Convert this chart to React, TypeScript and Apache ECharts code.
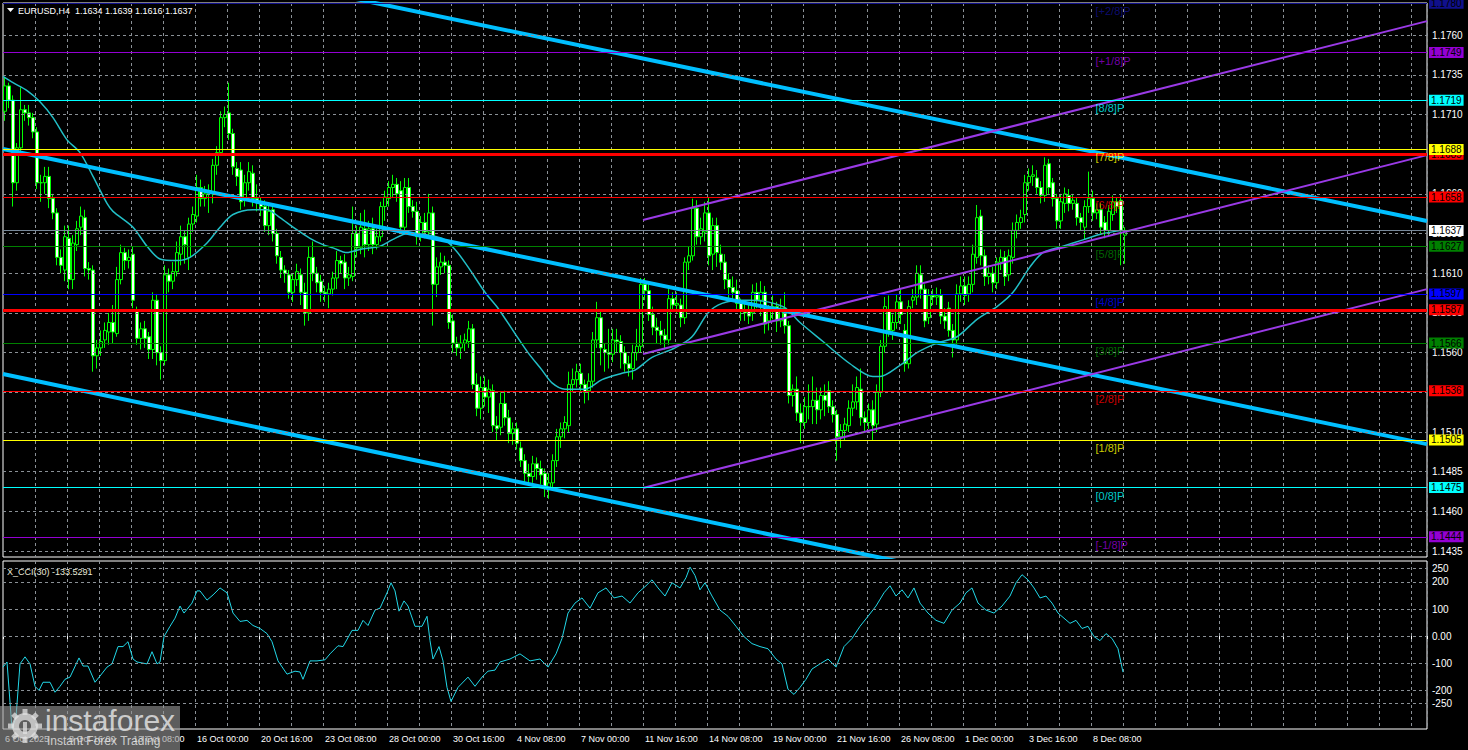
import React, { useEffect, useRef } from "react";
import * as echarts from "echarts";

// ---------- DATA ----------
// candles: [open, close, low, high], one per H4 bar from 6 Oct 2025 00:00
const week1 = [
  [1.1712,1.1728,1.1706,1.1733],[1.1728,1.1719,1.1714,1.1730],[1.1719,1.1667,1.1652,1.1722],[1.1667,1.1689,1.1662,1.1692],[1.1689,1.1713,1.1685,1.1727],
  [1.1713,1.1711,1.1706,1.1716],[1.1711,1.1708,1.1703,1.1716],[1.1708,1.1699,1.1695,1.1711],[1.1699,1.1667,1.1663,1.1702],[1.1667,1.1667,1.1655,1.1672],
  [1.1667,1.1671,1.1660,1.1677],[1.1671,1.1657,1.1651,1.1677],[1.1657,1.1648,1.1644,1.1660],[1.1648,1.1620,1.1615,1.1651],[1.1620,1.1615,1.1610,1.1625],
  [1.1612,1.1633,1.1605,1.1640],[1.1632,1.1606,1.1600,1.1640],[1.1606,1.1629,1.1600,1.1634],[1.1628,1.1638,1.1624,1.1643],[1.1639,1.1646,1.1634,1.1652],
  [1.1645,1.1613,1.1608,1.1650],[1.1613,1.1612,1.1606,1.1617],[1.1612,1.1558,1.1548,1.1615],[1.1558,1.1563,1.1550,1.1568],[1.1563,1.1567,1.1558,1.1574],
  [1.1568,1.1574,1.1563,1.1579],[1.1573,1.1579,1.1565,1.1585],[1.1579,1.1573,1.1566,1.1590],[1.1572,1.1606,1.1570,1.1614],[1.1606,1.1623,1.1603,1.1628],
];
const week2 = [
  [1.1623,1.1618,1.1612,1.1626],[1.1618,1.1620,1.1613,1.1625],[1.1622,1.1593,1.1588,1.1627],[1.1586,1.1569,1.1565,1.1589],[1.1569,1.1575,1.1562,1.1579],
  [1.1575,1.1569,1.1563,1.1580],[1.1570,1.1562,1.1556,1.1573],[1.1562,1.1593,1.1556,1.1598],[1.1593,1.1560,1.1552,1.1597],[1.1560,1.1555,1.1543,1.1564],
  [1.1555,1.1609,1.1552,1.1615],[1.1609,1.1605,1.1598,1.1613],[1.1605,1.1611,1.1600,1.1617],[1.1611,1.1623,1.1608,1.1630],[1.1622,1.1633,1.1615,1.1640],
  [1.1633,1.1628,1.1616,1.1637],[1.1620,1.1641,1.1612,1.1645],[1.1641,1.1647,1.1636,1.1652],[1.1646,1.1664,1.1642,1.1672],[1.1664,1.1657,1.1652,1.1669],
  [1.1657,1.1660,1.1652,1.1665],[1.1660,1.1662,1.1648,1.1666],[1.1661,1.1678,1.1654,1.1682],[1.1678,1.1686,1.1672,1.1690],[1.1686,1.1708,1.1684,1.1712],
  [1.1708,1.1710,1.1702,1.1715],[1.1711,1.1698,1.1694,1.1730],[1.1698,1.1677,1.1672,1.1701],[1.1676,1.1671,1.1665,1.1680],[1.1675,1.1655,1.1650,1.1680],
];
const week3 = [
  [1.1656,1.1667,1.1652,1.1672],[1.1667,1.1674,1.1662,1.1680],[1.1673,1.1657,1.1652,1.1678],[1.1657,1.1655,1.1649,1.1666],[1.1655,1.1652,1.1646,1.1658],
  [1.1652,1.1640,1.1636,1.1656],[1.1640,1.1649,1.1634,1.1654],[1.1650,1.1635,1.1630,1.1654],[1.1635,1.1621,1.1616,1.1638],[1.1620,1.1612,1.1607,1.1624],
  [1.1612,1.1610,1.1604,1.1615],[1.1609,1.1598,1.1594,1.1612],[1.1598,1.1606,1.1592,1.1610],[1.1606,1.1611,1.1602,1.1616],[1.1609,1.1598,1.1590,1.1613],
  [1.1598,1.1585,1.1577,1.1604],[1.1585,1.1620,1.1580,1.1627],[1.1620,1.1610,1.1605,1.1630],[1.1610,1.1604,1.1598,1.1614],[1.1605,1.1598,1.1592,1.1609],
  [1.1598,1.1597,1.1592,1.1602],[1.1597,1.1600,1.1588,1.1604],[1.1600,1.1607,1.1596,1.1611],[1.1607,1.1618,1.1600,1.1624],[1.1618,1.1616,1.1610,1.1621],
  [1.1617,1.1607,1.1600,1.1622],[1.1607,1.1609,1.1602,1.1614],[1.1608,1.1635,1.1605,1.1652],[1.1635,1.1626,1.1620,1.1640],[1.1626,1.1639,1.1622,1.1648],
];
const week4 = [
  [1.1638,1.1628,1.1620,1.1650],[1.1628,1.1638,1.1624,1.1643],[1.1638,1.1628,1.1622,1.1645],[1.1628,1.1633,1.1625,1.1638],[1.1633,1.1652,1.1630,1.1655],
  [1.1652,1.1658,1.1643,1.1662],[1.1657,1.1664,1.1652,1.1668],[1.1664,1.1666,1.1658,1.1672],[1.1666,1.1660,1.1655,1.1670],[1.1662,1.1639,1.1635,1.1668],
  [1.1639,1.1664,1.1636,1.1670],[1.1664,1.1652,1.1648,1.1670],[1.1652,1.1649,1.1645,1.1656],[1.1649,1.1633,1.1628,1.1655],[1.1634,1.1642,1.1630,1.1646],
  [1.1642,1.1636,1.1632,1.1648],[1.1636,1.1648,1.1632,1.1660],[1.1648,1.1603,1.1577,1.1652],[1.1603,1.1614,1.1595,1.1620],[1.1614,1.1617,1.1609,1.1623],
  [1.1617,1.1615,1.1610,1.1621],[1.1615,1.1579,1.1575,1.1618],[1.1580,1.1566,1.1560,1.1584],[1.1566,1.1563,1.1558,1.1570],[1.1563,1.1566,1.1556,1.1571],
  [1.1566,1.1568,1.1561,1.1572],[1.1567,1.1575,1.1563,1.1580],[1.1575,1.1540,1.1537,1.1578],[1.1540,1.1525,1.1520,1.1547],[1.1525,1.1538,1.1518,1.1545],
];
const week5 = [
  [1.1538,1.1532,1.1526,1.1545],[1.1532,1.1537,1.1522,1.1543],[1.1536,1.1514,1.1510,1.1540],[1.1514,1.1512,1.1505,1.1520],[1.1513,1.1528,1.1508,1.1535],
  [1.1528,1.1519,1.1514,1.1536],[1.1519,1.1509,1.1503,1.1524],[1.1509,1.1512,1.1502,1.1516],[1.1512,1.1503,1.1499,1.1516],[1.1500,1.1492,1.1488,1.1504],
  [1.1492,1.1484,1.1478,1.1496],[1.1484,1.1482,1.1476,1.1490],[1.1482,1.1490,1.1478,1.1495],[1.1490,1.1487,1.1480,1.1494],[1.1487,1.1483,1.1477,1.1492],
  [1.1484,1.1475,1.1469,1.1487],[1.1475,1.1478,1.1468,1.1484],[1.1478,1.1492,1.1474,1.1496],[1.1492,1.1507,1.1488,1.1512],[1.1507,1.1512,1.1500,1.1516],
  [1.1512,1.1516,1.1506,1.1520],[1.1514,1.1540,1.1510,1.1548],[1.1540,1.1543,1.1535,1.1550],[1.1543,1.1548,1.1538,1.1553],[1.1547,1.1540,1.1535,1.1553],
  [1.1540,1.1535,1.1528,1.1543],[1.1536,1.1542,1.1530,1.1547],[1.1542,1.1568,1.1538,1.1573],[1.1568,1.1582,1.1563,1.1592],[1.1582,1.1563,1.1552,1.1586],
];
const week6 = [
  [1.1562,1.1560,1.1548,1.1566],[1.1560,1.1559,1.1550,1.1575],[1.1559,1.1568,1.1554,1.1575],[1.1568,1.1567,1.1560,1.1575],[1.1567,1.1560,1.1550,1.1571],
  [1.1560,1.1553,1.1548,1.1564],[1.1553,1.1550,1.1545,1.1558],[1.1550,1.1560,1.1543,1.1565],[1.1560,1.1564,1.1555,1.1575],[1.1564,1.1603,1.1560,1.1607],
  [1.1603,1.1599,1.1593,1.1607],[1.1599,1.1584,1.1580,1.1605],[1.1584,1.1576,1.1571,1.1589],[1.1576,1.1574,1.1566,1.1582],[1.1574,1.1571,1.1565,1.1580],
  [1.1571,1.1568,1.1562,1.1575],[1.1568,1.1594,1.1565,1.1600],[1.1594,1.1590,1.1586,1.1598],[1.1590,1.1591,1.1585,1.1598],[1.1590,1.1582,1.1576,1.1594],
  [1.1582,1.1617,1.1578,1.1620],[1.1617,1.1621,1.1612,1.1627],[1.1621,1.1651,1.1618,1.1657],[1.1651,1.1633,1.1628,1.1656],[1.1633,1.1638,1.1628,1.1645],
  [1.1636,1.1648,1.1630,1.1655],[1.1648,1.1621,1.1615,1.1658],[1.1622,1.1640,1.1612,1.1645],[1.1640,1.1623,1.1614,1.1645],[1.1622,1.1617,1.1612,1.1628],
];
const week7 = [
  [1.1617,1.1606,1.1600,1.1622],[1.1606,1.1601,1.1594,1.1610],[1.1601,1.1598,1.1593,1.1608],[1.1599,1.1591,1.1587,1.1606],[1.1591,1.1587,1.1580,1.1594],
  [1.1587,1.1585,1.1580,1.1592],[1.1586,1.1583,1.1578,1.1590],[1.1585,1.1598,1.1580,1.1603],[1.1598,1.1593,1.1588,1.1604],[1.1593,1.1598,1.1583,1.1605],
  [1.1598,1.1578,1.1572,1.1602],[1.1580,1.1586,1.1574,1.1590],[1.1586,1.1589,1.1581,1.1596],[1.1589,1.1580,1.1573,1.1592],[1.1580,1.1588,1.1576,1.1594],
  [1.1588,1.1577,1.1572,1.1598],[1.1577,1.1533,1.1528,1.1580],[1.1533,1.1537,1.1526,1.1540],[1.1537,1.1522,1.1517,1.1545],[1.1522,1.1516,1.1503,1.1528],
  [1.1516,1.1526,1.1512,1.1532],[1.1526,1.1526,1.1518,1.1540],[1.1526,1.1530,1.1515,1.1545],[1.1530,1.1524,1.1515,1.1538],[1.1524,1.1533,1.1518,1.1538],
  [1.1533,1.1530,1.1520,1.1540],[1.1536,1.1526,1.1522,1.1542],[1.1526,1.1521,1.1516,1.1530],[1.1521,1.1507,1.1492,1.1524],[1.1507,1.1511,1.1500,1.1515],
];
const week8 = [
  [1.1511,1.1515,1.1505,1.1519],[1.1514,1.1525,1.1510,1.1530],[1.1525,1.1529,1.1520,1.1540],[1.1529,1.1538,1.1524,1.1545],[1.1537,1.1519,1.1514,1.1550],
  [1.1519,1.1516,1.1510,1.1523],[1.1516,1.1524,1.1512,1.1528],[1.1524,1.1514,1.1505,1.1530],[1.1515,1.1535,1.1510,1.1540],[1.1535,1.1564,1.1532,1.1568],
  [1.1564,1.1589,1.1560,1.1595],[1.1586,1.1574,1.1570,1.1596],[1.1574,1.1579,1.1568,1.1584],[1.1579,1.1592,1.1575,1.1597],[1.1592,1.1584,1.1578,1.1600],
  [1.1574,1.1553,1.1548,1.1578],[1.1553,1.1589,1.1550,1.1593],[1.1593,1.1595,1.1588,1.1600],[1.1595,1.1610,1.1590,1.1615],[1.1609,1.1600,1.1594,1.1615],
  [1.1600,1.1580,1.1576,1.1603],[1.1582,1.1596,1.1578,1.1600],[1.1596,1.1595,1.1590,1.1600],[1.1595,1.1596,1.1590,1.1601],[1.1596,1.1583,1.1578,1.1600],
  [1.1583,1.1580,1.1575,1.1588],[1.1588,1.1574,1.1570,1.1592],[1.1574,1.1568,1.1557,1.1578],[1.1568,1.1597,1.1565,1.1603],[1.1597,1.1602,1.1592,1.1608],
];
const week9 = [
  [1.1602,1.1596,1.1590,1.1608],[1.1597,1.1603,1.1592,1.1608],[1.1603,1.1622,1.1598,1.1628],[1.1620,1.1645,1.1616,1.1653],[1.1646,1.1621,1.1615,1.1650],
  [1.1621,1.1608,1.1602,1.1625],[1.1608,1.1610,1.1603,1.1615],[1.1610,1.1604,1.1598,1.1614],[1.1604,1.1617,1.1600,1.1620],[1.1617,1.1620,1.1612,1.1625],
  [1.1620,1.1608,1.1602,1.1624],[1.1609,1.1621,1.1605,1.1625],[1.1620,1.1637,1.1616,1.1642],[1.1637,1.1642,1.1632,1.1647],[1.1642,1.1645,1.1638,1.1650],
  [1.1647,1.1667,1.1642,1.1672],[1.1667,1.1671,1.1662,1.1676],[1.1671,1.1672,1.1665,1.1678],[1.1670,1.1664,1.1660,1.1675],[1.1664,1.1659,1.1654,1.1668],
  [1.1659,1.1678,1.1655,1.1683],[1.1679,1.1664,1.1660,1.1682],[1.1667,1.1657,1.1652,1.1670],[1.1657,1.1643,1.1638,1.1660],[1.1643,1.1655,1.1638,1.1660],
  [1.1654,1.1660,1.1648,1.1664],[1.1659,1.1654,1.1649,1.1663],[1.1654,1.1656,1.1650,1.1660],[1.1654,1.1645,1.1640,1.1658],[1.1645,1.1642,1.1637,1.1648],
];
const week10 = [
  [1.1639,1.1652,1.1631,1.1656],[1.1652,1.1657,1.1648,1.1674],[1.1657,1.1648,1.1643,1.1662],[1.1648,1.1650,1.1644,1.1654],[1.1650,1.1639,1.1635,1.1654],
  [1.1642,1.1637,1.1632,1.1646],[1.1637,1.1649,1.1633,1.1653],[1.1647,1.1655,1.1643,1.1659],[1.1655,1.1652,1.1648,1.1658],[1.1656,1.1637,1.1615,1.1660],
  [1.1634,1.1637,1.1616,1.1639],
];

const xLabels = [
  "6 Oct 2025", "8 Oct 16:00", "13 Oct 08:00", "16 Oct 00:00", "20 Oct 16:00", "23 Oct 08:00",
  "28 Oct 00:00", "30 Oct 16:00", "4 Nov 08:00", "7 Nov 00:00", "11 Nov 16:00", "14 Nov 08:00",
  "19 Nov 00:00", "21 Nov 16:00", "26 Nov 08:00", "1 Dec 00:00", "3 Dec 16:00", "8 Dec 08:00",
];

const priceTicks = [1.1760, 1.1735, 1.1710, 1.1685, 1.1660, 1.1635, 1.1610, 1.1585, 1.1560, 1.1535, 1.1510, 1.1485, 1.1460, 1.1435];

const murrayLevels = [1.1780, 1.1749, 1.1719, 1.1688, 1.1658, 1.1627, 1.1597, 1.1566, 1.1536, 1.1505, 1.1475, 1.1444];
const murrayNames = ["[+2/8]P", "[+1/8]P", "[8/8]P", "[7/8]P", "[6/8]P", "[5/8]P", "[4/8]P", "[3/8]P", "[2/8]P", "[1/8]P", "[0/8]P", "[-1/8]P"];
const murrayColors = ["#10108c", "#9400d3", "#00ffff", "#ffff00", "#ff0000", "#008000", "#0000ff", "#008000", "#ff0000", "#ffff00", "#00ffff", "#9400d3"];

const srLevels = [1.1685, 1.1587];
const lastPrice = 1.1637;

// moving average, sampled [bar position, price]
const maPoints = [
  [-0.5,1.1734],[2,1.1730],[5.5,1.1725],[8.75,1.1718],[12,1.1708],[15.5,1.1694],[18.75,1.1686],[22,1.1671],[25.5,1.1654],[27,1.1649],
  [32,1.1639],[35.5,1.1627],[38.75,1.1619],[43,1.1618],[46.25,1.1620],[50.5,1.1629],[53.75,1.1639],[57,1.1647],[62,1.1650],[65.5,1.1650],
  [68.75,1.1645],[72,1.1639],[76.25,1.1632],[79.5,1.1628],[82,1.1626],[85.5,1.1623],[88.75,1.1625],[93.75,1.1627],[96.75,1.1631],[100.75,1.1635],
  [109.25,1.1632],[112.5,1.1625],[115.75,1.1614],[120,1.1598],[123.25,1.1588],[127.5,1.1572],[130.75,1.1560],[134.25,1.1549],[136.75,1.1541],[140,1.1537],
  [145,1.1537],[149.25,1.1543],[154.25,1.1547],[157.5,1.1549],[161.75,1.1557],[167.5,1.1563],[171.75,1.1570],[175.75,1.1585],[179.25,1.1591],[184.25,1.1593],
  [186.25,1.1593],[194.5,1.1589],[198.75,1.1579],[204.5,1.1567],[211.25,1.1553],[217,1.1545],[218.75,1.1545],[223.75,1.1552],[228,1.1560],[233,1.1566],
  [238,1.1570],[243,1.1581],[248,1.1589],[252,1.1598],[256.25,1.1614],[259.5,1.1623],[264.5,1.1627],[269.5,1.1631],[274.5,1.1635],[279.5,1.1637],
];

// trend channels: endpoints [bar position, price]
const blueLines = [
  [[60, 1.17972], [355.5, 1.16429]],
  [[-0.5, 1.16882], [355.5, 1.15024]],
  [[-0.5, 1.15465], [260, 1.14092]],
];
const purpleLines = [
  [[159.5, 1.16435], [355.5, 1.17688]],
  [[159.5, 1.15591], [355.5, 1.16844]],
  [[159.5, 1.14747], [355.5, 1.16000]],
];

// CCI(30), sampled [bar position, value]
const cciPoints = [
  [-0.5,-115],[0.5,-96],[1.75,-343],[2.75,-300],[3.75,-103],[5,-77],[6.25,-103],[7.5,-186],[8.5,-201],[9.5,-171],
  [11.25,-171],[12.5,-208],[13.75,-186],[15,-160],[16.25,-152],[18.5,-81],[19.5,-111],[20.75,-111],[22.5,-171],[23.75,-148],
  [25.5,-115],[26.75,-103],[28.25,-39],[29.5,-39],[30.75,-21],[32,-85],[33,-96],[35.5,-103],[36.75,-58],[38,-103],
  [38.75,-96],[39.75,-2],[41.25,36],[42.5,66],[43.75,111],[44.75,85],[46.75,122],[48,167],[48.75,167],[50.5,133],
  [52,152],[53.75,178],[55.5,160],[57,85],[58.75,54],[60.5,58],[62,39],[63.75,28],[65.5,9],[66.75,-21],
  [68.25,-92],[70.5,-141],[72.5,-130],[73.75,-133],[74.5,-160],[76.25,-92],[78,-92],[80,-88],[81.25,-66],[83.25,-36],
  [84.5,-39],[86.75,21],[88.25,21],[89.5,58],[90.75,39],[92.5,96],[93.75,103],[95.5,160],[96.5,197],[97.5,167],
  [98.5,92],[99.75,130],[100.75,111],[102.5,36],[104.25,36],[105.5,73],[106.25,-17],[107,-85],[108.5,-39],[109.5,-92],
  [110.5,-190],[111.5,-242],[113.25,-190],[115.75,-152],[117.5,-186],[119.25,-152],[120.75,-130],[122.5,-126],[123.75,-96],[126.25,-85],
  [128.75,-66],[131.25,-92],[133.75,-85],[135.75,-115],[137.75,-66],[139.25,-9],[140.75,85],[142.5,122],[144.25,141],[146.25,103],
  [148.25,160],[150.25,178],[152.25,141],[154.25,148],[156.25,122],[158.25,160],[160.25,186],[161.75,208],[163.25,178],[165,148],
  [166.75,197],[168.75,178],[170.25,216],[171.25,255],[172.5,224],[173.75,171],[175,197],[176.75,148],[178.75,96],[180.75,73],
  [182.75,36],[184.75,-2],[186.75,-28],[188.75,-39],[190.75,-47],[192.75,-85],[194.25,-103],[195.75,-197],[197.25,-216],[198.75,-190],
  [200.25,-160],[201.75,-122],[203.75,-103],[205.75,-85],[207.75,-115],[209.75,-39],[211.75,-9],[213.75,36],[215.75,73],[217.75,111],
  [219.75,160],[221.25,186],[222.75,148],[224.25,171],[225.75,141],[227.25,178],[228.75,122],[230.75,85],[232.75,58],[234.75,47],
  [236.75,96],[238.75,122],[240.25,160],[241.75,178],[243.25,122],[245.25,96],[247.25,85],[249.25,111],[251.25,148],[252.75,197],
  [254.25,227],[255.75,208],[257.25,178],[258.75,141],[260.25,148],[261.75,122],[263.25,85],[264.75,66],[266.25,47],[267.75,58],
  [269.25,28],[270.75,36],[272.25,-2],[273.75,-17],[275.25,9],[276.75,-9],[278.25,-47],[279.5,-133.5291],
];
const cciLevels = [250, 200, 100, 0, -100, -200, -250];
const cciLevelLabels = ["250", "200", "100", "0.00", "-100", "-200", "-250"];
const cciMax = 277.6479;
const cciMin = -343.949;
const cciLast = -133.5291;

// ---------- CHART ----------
const SLOTS = 356;
const Y_MIN = 1.14313;
const Y_MAX = 1.17802;
const FONT = '"Liberation Sans", Arial, sans-serif';
const GRIDC = "#8a9096";

const bars = [...week1, ...week2, ...week3, ...week4, ...week5, ...week6, ...week7, ...week8, ...week9, ...week10];
const cats = Array.from({ length: SLOTS }, (_, i) => (i % 16 === 0 && i / 16 < xLabels.length ? xLabels[i / 16] : ""));

function buildOption() {
  const last = bars[bars.length - 1];
  const header = `EURUSD,H4  ${last[0].toFixed(4)} ${last[3].toFixed(4)} ${last[2].toFixed(4)} ${last[1].toFixed(4)}`;

  const boxLabel = (bg: string, txt: string) => ({
    show: true, position: "end", distance: 2, formatter: txt, backgroundColor: bg, color: "#000",
    padding: [1, 2, 0, 2], fontSize: 10, fontFamily: FONT,
  });

  const levelData: any[] = [];
  srLevels.forEach((p) => levelData.push({ yAxis: p, lineStyle: { color: "#ff0000", width: 3, type: "solid" }, label: boxLabel("#ff0000", p.toFixed(4)) }));
  murrayLevels.forEach((p, k) => levelData.push({ yAxis: p, lineStyle: { color: murrayColors[k], width: 1, type: "solid" }, label: boxLabel(murrayColors[k], p.toFixed(4)) }));
  levelData.push({ yAxis: lastPrice, lineStyle: { color: "#778899", width: 1, type: "solid" }, label: boxLabel("#ffffff", lastPrice.toFixed(4)) });

  const trend = (pts: number[][], color: string, width: number) => ({
    type: "line", xAxisIndex: 1, yAxisIndex: 0, data: pts, showSymbol: false, silent: true, z: 4,
    lineStyle: { color, width }, clip: true,
  });

  return {
    animation: false,
    backgroundColor: "#000000",
    textStyle: { fontFamily: FONT },
    grid: [
      { left: 3, top: 3, width: 1424, height: 554, show: true, borderColor: "#ffffff", borderWidth: 1, backgroundColor: "transparent" },
      { left: 3, top: 561, width: 1424, height: 168, show: true, borderColor: "#ffffff", borderWidth: 1, backgroundColor: "transparent" },
    ],
    xAxis: [
      {
        type: "category", gridIndex: 0, data: cats, boundaryGap: true,
        axisLine: { show: false }, axisTick: { show: false }, axisLabel: { show: false },
        splitLine: { show: true, interval: (i: number) => i % 8 === 0 && i > 0, lineStyle: { color: GRIDC, type: [3, 3], width: 1 } },
      },
      { type: "value", gridIndex: 0, min: -0.5, max: SLOTS - 0.5, show: false },
      {
        type: "category", gridIndex: 1, data: cats, boundaryGap: true,
        axisLine: { show: false },
        axisTick: { show: true, interval: (i: number) => i % 16 === 0, length: 3, lineStyle: { color: "#ffffff" } },
        axisLabel: { show: true, interval: (i: number) => i % 16 === 0, color: "#ffffff", fontSize: 9, fontFamily: FONT, align: "left", margin: 5 },
        splitLine: { show: true, interval: (i: number) => i % 8 === 0 && i > 0, lineStyle: { color: GRIDC, type: [3, 3], width: 1 } },
      },
      { type: "value", gridIndex: 1, min: -0.5, max: SLOTS - 0.5, show: false },
    ],
    yAxis: [
      { type: "value", gridIndex: 0, min: Y_MIN, max: Y_MAX, show: false },
      { type: "value", gridIndex: 1, min: cciMin, max: cciMax, show: false },
    ],
    series: [
      {
        type: "line", xAxisIndex: 1, yAxisIndex: 0, data: [[-5, 1.16]], showSymbol: false, silent: true, z: 1,
        lineStyle: { opacity: 0 },
        markLine: {
          silent: true, symbol: "none", animation: false, precision: 6,
          data: priceTicks.map((p) => ({
            yAxis: p, lineStyle: { color: GRIDC, type: [3, 3], width: 1 },
            label: { show: true, position: "end", distance: 5, formatter: p.toFixed(4), color: "#ffffff", fontSize: 10, fontFamily: FONT },
          })),
        },
      },
      {
        type: "candlestick", xAxisIndex: 0, yAxisIndex: 0, data: bars, barWidth: 3, z: 2, silent: true,
        itemStyle: { color: "#000000", color0: "#ffffff", borderColor: "#00ff00", borderColor0: "#00ff00", borderWidth: 1 },
      },
      {
        type: "line", xAxisIndex: 1, yAxisIndex: 0, data: maPoints, showSymbol: false, smooth: 0.3, silent: true, z: 3,
        lineStyle: { color: "#22bfc6", width: 1.5 },
      },
      {
        type: "line", xAxisIndex: 1, yAxisIndex: 0, data: [[-5, 1.16]], showSymbol: false, silent: true, z: 3,
        lineStyle: { opacity: 0 },
        markLine: { silent: true, symbol: "none", animation: false, precision: 6, data: levelData },
      },
      ...blueLines.map((l) => trend(l, "#00bfff", 4)),
      ...purpleLines.map((l) => trend(l, "#9a3ae6", 2)),
      {
        type: "scatter", xAxisIndex: 1, yAxisIndex: 0, symbolSize: 1, silent: true, z: 6,
        itemStyle: { color: "transparent" },
        data: murrayLevels.map((p, k) => ({
          value: [271.5, p],
          label: { show: true, position: "right", distance: 4, offset: [0, 8], formatter: murrayNames[k], color: murrayColors[k], fontSize: 11, fontFamily: FONT },
        })),
      },
      {
        type: "line", xAxisIndex: 3, yAxisIndex: 1, data: cciPoints, showSymbol: false, silent: true, z: 3,
        lineStyle: { color: "#22d8e8", width: 1 },
        markLine: {
          silent: true, symbol: "none", animation: false, precision: 6,
          data: [
            ...cciLevels.map((v, k) => ({
              yAxis: v, lineStyle: { color: GRIDC, type: [3, 3], width: 1 },
              label: { show: true, position: "end", distance: 5, formatter: cciLevelLabels[k], color: "#ffffff", fontSize: 10, fontFamily: FONT },
            })),
            {
              yAxis: cciMax, lineStyle: { width: 0, opacity: 0 },
              label: { show: true, position: "end", distance: 5, offset: [0, 6], formatter: cciMax.toFixed(4), color: "#ffffff", fontSize: 10, fontFamily: FONT },
            },
            {
              yAxis: cciMin, lineStyle: { width: 0, opacity: 0 },
              label: { show: true, position: "end", distance: 5, offset: [0, -6], formatter: cciMin.toFixed(3), color: "#ffffff", fontSize: 10, fontFamily: FONT },
            },
          ],
        },
      },
    ],
    graphic: [
      { type: "polygon", shape: { points: [[7, 8], [14, 8], [10.5, 12]] }, style: { fill: "#ffffff" }, z: 100 },
      { type: "text", x: 18, y: 6, z: 100, style: { text: header, fill: "#ffffff", font: `9px ${FONT}`, verticalAlign: "top" } },
      { type: "text", x: 7, y: 567, z: 100, style: { text: `X_CCI(30) ${cciLast.toFixed(4)}`, fill: "#e8e8d8", font: `9px ${FONT}`, verticalAlign: "top" } },
      { type: "rect", z: 100, shape: { x: 0, y: 706, width: 180, height: 44 }, style: { fill: "rgba(150,150,150,0.62)" } },
      { type: "ring", z: 101, shape: { cx: 25, cy: 726, r: 13, r0: 6 }, style: { fill: "rgba(225,225,225,0.75)" } },
      ...[0, 45, 90, 135, 180, 225, 270, 315].map((a) => ({
        type: "rect", z: 101, x: 25, y: 726, rotation: (a * Math.PI) / 180,
        shape: { x: -2.5, y: -17, width: 5, height: 6 }, style: { fill: "rgba(225,225,225,0.75)" },
      })),
      { type: "rect", z: 102, shape: { x: 23, y: 722, width: 4, height: 12 }, style: { fill: "rgba(225,225,225,0.75)" } },
      { type: "text", x: 45, y: 705, z: 101, style: { text: "instaforex", fill: "rgba(235,235,235,0.8)", font: `30px ${FONT}`, verticalAlign: "top" } },
      { type: "text", x: 47, y: 735, z: 101, style: { text: "Instant Forex Trading", fill: "rgba(235,235,235,0.8)", font: `12px ${FONT}`, verticalAlign: "top" } },
    ],
  };
}

export default function App() {
  const ref = useRef<HTMLDivElement>(null);
  useEffect(() => {
    if (!ref.current) return;
    const chart = echarts.init(ref.current, null, { renderer: "svg" });
    chart.setOption(buildOption() as any);
    return () => chart.dispose();
  }, []);
  return (
    <div style={{ position: "fixed", left: 0, top: 0, width: 1468, height: 750, background: "#000" }}>
      <div ref={ref} style={{ width: 1468, height: 750 }} />
    </div>
  );
}
